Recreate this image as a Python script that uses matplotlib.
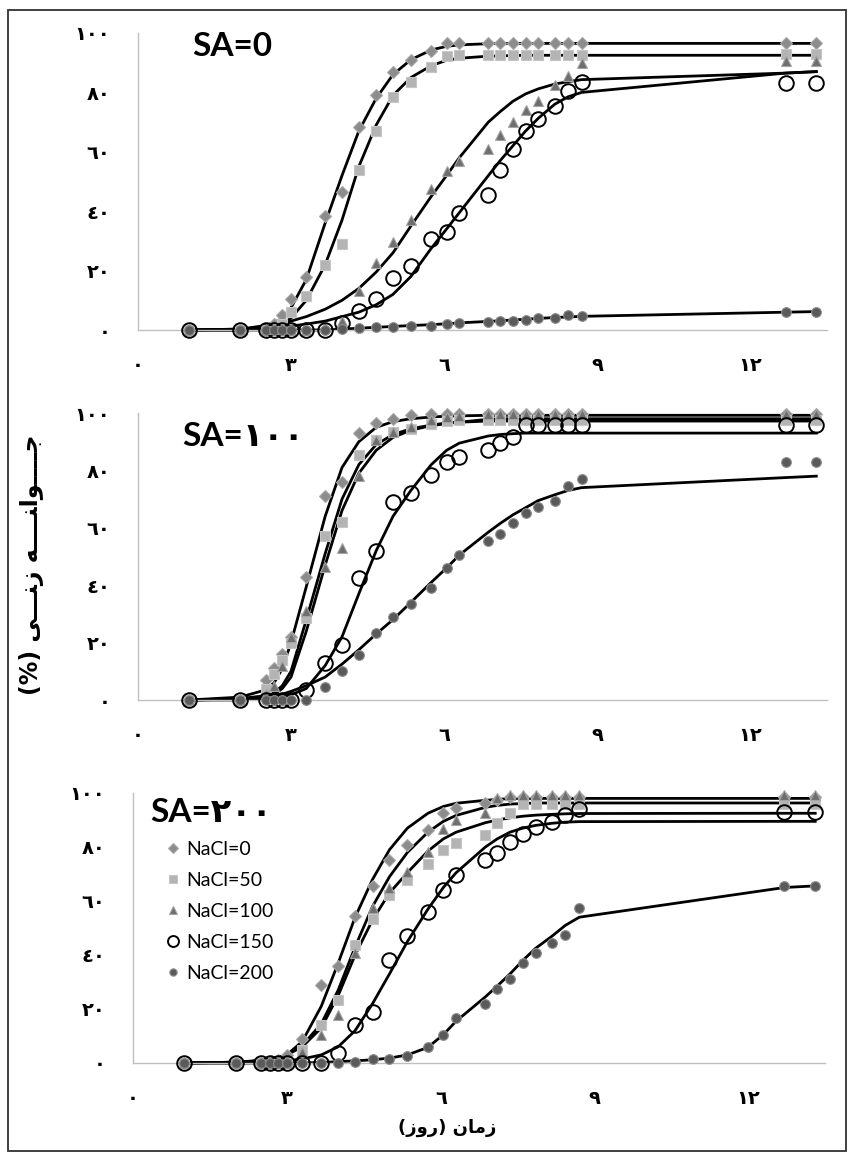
import matplotlib
matplotlib.use("Agg")
import matplotlib.pyplot as plt
from matplotlib.lines import Line2D
from matplotlib.patches import Rectangle

# --- data (germination %) ---
days = [1, 2, 2.5, 2.67, 2.83, 3, 3.3, 3.67, 4, 4.33, 4.67, 5, 5.35, 5.75,
        6.05, 6.3, 6.87, 7.1, 7.35, 7.6, 7.85, 8.17, 8.43, 8.7, 12.7, 13.3]

nacl_labels = ["NaCl=0", "NaCl=50", "NaCl=100", "NaCl=150", "NaCl=200"]
panel_titles = ["SA=0", "SA=١٠٠", "SA=٢٠٠"]

# SA = 0, observed
sa0_n0 = [0, 0, 0, 2, 5, 10.5, 18, 38.5, 46.5, 68.5, 79, 87, 91, 94, 96.5, 96.5,
          96.5, 96.5, 96.5, 96.5, 96.5, 96.5, 96.5, 96.5, 96.5, 96.5]
sa0_n50 = [0, 0, 0, 0.5, 2, 6, 11.5, 22, 29, 54, 67, 78.5, 83.5, 88.5, 92.3, 92.5,
           92.5, 92.5, 92.5, 92.5, 92.5, 92.5, 92.5, 92.5, 93, 93]
sa0_n100 = [0, 0, 0, 0, 0, 0, 0, 1, 3, 13, 22.5, 29.5, 37, 47.5, 53.5, 57,
            61, 65.5, 70, 74, 77, 82.5, 85.5, 90, 90.5, 90.5]
sa0_n150 = [0, 0, 0, 0, 0, 0, 0, 0, 2.5, 6.5, 10.5, 17.5, 21.5, 30.5, 33, 39.5,
            45.5, 54, 61, 67, 71, 75.5, 80.5, 83.5, 83, 83]
sa0_n200 = [0, 0, 0, 0, 0, 0, 0, 0, 0.5, 0.6, 1, 1, 1.5, 1.5, 2, 2.2,
            2.7, 3, 3, 3.5, 4, 4, 5, 4.7, 6.2, 6.2]
# SA = 0, fitted curves
sa0_f0 = [0, 0.3, 1.5, 2.5, 4, 7.5, 17, 36, 52, 67, 78, 86, 91, 94.3, 95.5, 96,
          96.4, 96.5, 96.5, 96.5, 96.5, 96.5, 96.5, 96.5, 96.5, 96.5]
sa0_f50 = [0, 0, 0.5, 1, 2, 4, 10, 22, 37, 55, 69, 79, 85, 89, 90.8, 91.5,
           92.2, 92.3, 92.4, 92.5, 92.5, 92.5, 92.5, 92.5, 92.5, 92.5]
sa0_f100 = [0, 0.3, 1, 1.5, 2, 3, 4.5, 7, 10, 14, 19.5, 26, 35, 45, 52, 58,
            70, 73.5, 77, 79.5, 81.2, 82.8, 83.6, 84.3, 86.5, 87]
sa0_f150 = [0, 0, 0.5, 0.7, 1, 1.3, 2, 3, 4.5, 6, 8.5, 12, 18, 27.5, 34, 39.5,
            52, 57, 62, 67, 71.3, 76, 78.5, 80, 86.5, 87]
sa0_f200 = [0, 0, 0, 0, 0, 0, 0, 0, 0.3, 0.6, 0.9, 1.2, 1.5, 1.8, 2.1, 2.4,
            2.9, 3.1, 3.4, 3.6, 3.9, 4.2, 4.4, 4.6, 6, 6.2]

# SA = 100, observed
sa100_n0 = [0, 0, 7, 11, 16, 22, 43, 71, 76, 93, 96.5, 98, 99.3, 99.5, 99.5, 99.5,
            99.5, 99.5, 99.5, 99.5, 99.5, 99.5, 99.5, 99.5, 99.5, 99.5]
sa100_n50 = [0, 0, 4, 9, 14, 20, 28.5, 57, 62, 85.5, 90.5, 93.5, 94.5, 96, 97.3, 97.5,
             97.5, 97.5, 97.5, 97.5, 97.5, 97.5, 97.5, 97.5, 97.5, 97.5]
sa100_n100 = [0, 0, 2, 5, 12, 22, 31, 46.5, 53, 78, 90.5, 93.5, 95, 97.5, 98.5, 99,
              99.8, 99.8, 99.8, 99.8, 99.8, 99.8, 99.8, 99.8, 99.8, 99.8]
sa100_n150 = [0, 0, 0, 0, 0, 0, 3.5, 13, 19, 42.5, 52, 69, 72, 78.5, 83, 84.5,
              87, 89.5, 91.5, 95.8, 95.8, 95.8, 95.8, 95.8, 95.8, 95.8]
sa100_n200 = [0, 0, 0, 0, 0, 0, 0, 4.6, 10, 15.7, 23.3, 29, 33.5, 39, 46, 50.5,
              55.5, 57.8, 61.7, 65.2, 67.2, 69.4, 74.6, 77, 83, 83]
# SA = 100, fitted curves
sa100_f0 = [0, 1, 3.5, 6, 11, 20, 39.5, 64, 81, 90, 95, 97, 98, 98.6, 98.9, 99,
            99.2, 99.2, 99.2, 99.2, 99.2, 99.2, 99.2, 99.2, 99.2, 99.2]
sa100_f50 = [0, 0.5, 1.5, 2.5, 5, 10, 28, 51, 70, 82, 89, 92.5, 94.5, 95.8, 96.5, 96.8,
             97.2, 97.2, 97.2, 97.2, 97.2, 97.2, 97.2, 97.2, 97.2, 97.2]
sa100_f100 = [0, 0.3, 1, 2, 4, 8, 24, 47, 66, 79, 87, 91.5, 94, 95.6, 96.3, 96.8,
              97.8, 98, 98, 98, 98, 98, 98, 98, 98, 98]
sa100_f150 = [0, 0, 0.5, 0.8, 1.2, 1.8, 4, 12, 22, 37, 52, 64, 73, 82, 87, 89.5,
              92, 92.5, 92.8, 93, 93, 93, 93, 93, 93, 93]
sa100_f200 = [0, 0.3, 1, 1.5, 2, 3, 5, 8, 12.5, 17.5, 23, 28, 34, 41, 46, 50.5,
              58.5, 61.5, 64.5, 67, 69.5, 71.5, 73, 74, 77.5, 78]

# SA = 200, observed
sa200_n0 = [0, 0, 0, 0, 1, 3, 9, 29, 36, 54.5, 65.7, 75.3, 80.7, 86.3, 92.5, 94.5,
            96.3, 97.5, 98.6, 98.6, 98.6, 98.6, 98.6, 98.6, 98.6, 98.6]
sa200_n50 = [0, 0, 0, 0, 0, 0, 4.8, 14, 23.3, 43.7, 53.2, 62.2, 67.8, 73.7, 78.9, 81.4,
             84.4, 88.8, 92.5, 96, 96, 96, 96, 96, 96, 96]
sa200_n100 = [0, 0, 0, 0, 0, 0, 4, 10.4, 17.8, 40.6, 57.3, 64.7, 70.9, 78.3, 86.5, 90,
              92.5, 98, 99.3, 99.3, 99.3, 99.3, 99.3, 99.3, 99.3, 99.3]
sa200_n150 = [0, 0, 0, 0, 0, 0, 0, 0, 3.7, 14, 19, 38, 47, 56, 64, 69.6,
              75.2, 77.7, 82, 85, 87.5, 89.4, 91.9, 94, 93, 93]
sa200_n200 = [0, 0, 0, 0, 0, 0, 0, 0, 0, 0.5, 1.5, 1.5, 2.5, 6, 10.4, 16.5,
              21.9, 27.3, 31, 37.2, 40.9, 44.6, 47.4, 57.3, 65.6, 65.6]
# SA = 200, fitted curves
sa200_f0 = [0, 0.3, 1, 1.5, 2, 3, 8, 21, 37, 54, 68, 79, 87, 92.5, 95, 96.2,
            97.3, 97.6, 98, 98, 98, 98, 98, 98, 98, 98]
sa200_f50 = [0, 0.3, 0.8, 1.2, 2, 3, 6, 13, 25, 40, 53, 63, 70.5, 78.5, 83, 85.5,
             89, 90, 90.8, 91.4, 91.8, 92.1, 92.3, 92.4, 92.5, 92.5]
sa200_f100 = [0, 0.3, 0.8, 1.2, 2, 3, 6.5, 14.5, 27, 43, 58, 69, 78, 85.5, 89.5, 91.7,
              94.7, 95.4, 95.9, 96.1, 96.3, 96.3, 96.3, 96.3, 96.3, 96.3]
sa200_f150 = [0, 0, 0.2, 0.3, 0.5, 0.8, 1.5, 3, 6, 12, 22, 33, 45, 57, 65, 70.5,
              80, 83, 85.5, 87, 88, 88.8, 89.2, 89.4, 89.5, 89.5]
sa200_f200 = [0, 0, 0, 0, 0, 0, 0, 0.2, 0.5, 0.8, 1.2, 1.8, 3, 5.8, 10.5, 15.5,
              24.5, 28.5, 33, 38, 42.5, 47, 51, 54, 65, 65.6]

y_ticks = [0, 20, 40, 60, 80, 100]
x_ticks = [0, 3, 6, 9, 12]

W, H = 848, 1155
fig = plt.figure(figsize=(W / 100, H / 100), dpi=100)

AR_DIGITS = str.maketrans("0123456789", "٠١٢٣٤٥٦٧٨٩")


def ar(n):
    return str(n).translate(AR_DIGITS)


def rect(left, top, right, bottom):
    return [left / W, 1 - bottom / H, (right - left) / W, (bottom - top) / H]


styles = [
    dict(marker="D", ms=6.5, mfc="#8c8c8c", mec="#a8a8a8", mew=0.8),
    dict(marker="s", ms=7.5, mfc="#b4b4b4", mec="#c6c6c6", mew=0.8),
    dict(marker="^", ms=7.5, mfc="#6e6e6e", mec="#a4a4a4", mew=0.8),
    dict(marker="o", ms=10.5, mfc="none", mec="black", mew=1.4),
    dict(marker="o", ms=7, mfc="#5a5a5a", mec="#8e8e8e", mew=0.8),
]

panels = [
    ([sa0_n0, sa0_n50, sa0_n100, sa0_n150, sa0_n200],
     [sa0_f0, sa0_f50, sa0_f100, sa0_f150, sa0_f200],
     rect(138, 33, 826.5, 330), (192, 47)),
    ([sa100_n0, sa100_n50, sa100_n100, sa100_n150, sa100_n200],
     [sa100_f0, sa100_f50, sa100_f100, sa100_f150, sa100_f200],
     rect(138, 413, 826.5, 700), (182, 437)),
    ([sa200_n0, sa200_n50, sa200_n100, sa200_n150, sa200_n200],
     [sa200_f0, sa200_f50, sa200_f100, sa200_f150, sa200_f200],
     rect(133, 793, 825.5, 1063), (150, 812)),
]

tick_font = dict(family="DejaVu Sans", weight="bold", size=14)

for k, (obs, fits, pos, tpos) in enumerate(panels):
    ax = fig.add_axes(pos)
    for f in fits:
        ax.plot(days, f, color="black", lw=2.0, zorder=2, clip_on=False,
                solid_joinstyle="round")
    for i, o in enumerate(obs):
        ax.plot(days, o, linestyle="none", zorder=3 + i, clip_on=False, **styles[i])
    ax.set_xlim(0, 13.5)
    ax.set_ylim(0, 100)
    for s in ["top", "right"]:
        ax.spines[s].set_visible(False)
    for s in ["left", "bottom"]:
        ax.spines[s].set_color("#c0c0c0")
        ax.spines[s].set_linewidth(1.0)
    ax.set_xticks(x_ticks)
    ax.set_xticklabels([ar(v) for v in x_ticks], fontdict=tick_font)
    ax.set_yticks(y_ticks)
    ax.set_yticklabels([ar(v) for v in y_ticks], fontdict=tick_font)
    ax.tick_params(axis="x", length=0, pad=19)
    ax.tick_params(axis="y", length=0, pad=20)
    ax.patch.set_alpha(0)
    fig.text(tpos[0] / W, 1 - tpos[1] / H, panel_titles[k], ha="left", va="center",
             fontsize=24, fontweight="bold", family=["Lato", "DejaVu Sans"])
    if k == 2:
        handles = [Line2D([], [], linestyle="none", **styles[i]) for i in range(5)]
        ax.legend(handles, nacl_labels, loc="upper left",
                  bbox_to_anchor=(0.035, 0.85), frameon=False, markerscale=0.75,
                  handlelength=0.8, handletextpad=0.3, labelspacing=0.72,
                  prop=dict(family="Lato", size=14), borderaxespad=0)

# Persian axis titles (presentation forms, visual order)
ylab = "(%) ﻰـــﻨﺯ ﻪــــﻨﺍﻮــــﺟ"
xlab = "(ﺯﻭﺭ) ﻥﺎﻣﺯ"
fig.text(32 / W, 1 - 565 / H, ylab, rotation=90, ha="center", va="center",
         fontsize=17, fontweight="bold", family="DejaVu Sans")
fig.text(447 / W, 1 - 1128 / H, xlab, ha="center", va="center",
         fontsize=13, fontweight="bold", family="DejaVu Sans")

fig.patches.append(Rectangle((8 / W, 4 / H), 838 / W, 1141 / H, transform=fig.transFigure,
                             fill=False, edgecolor="#303030", lw=1.3))

fig.savefig("out.png", dpi=100)
